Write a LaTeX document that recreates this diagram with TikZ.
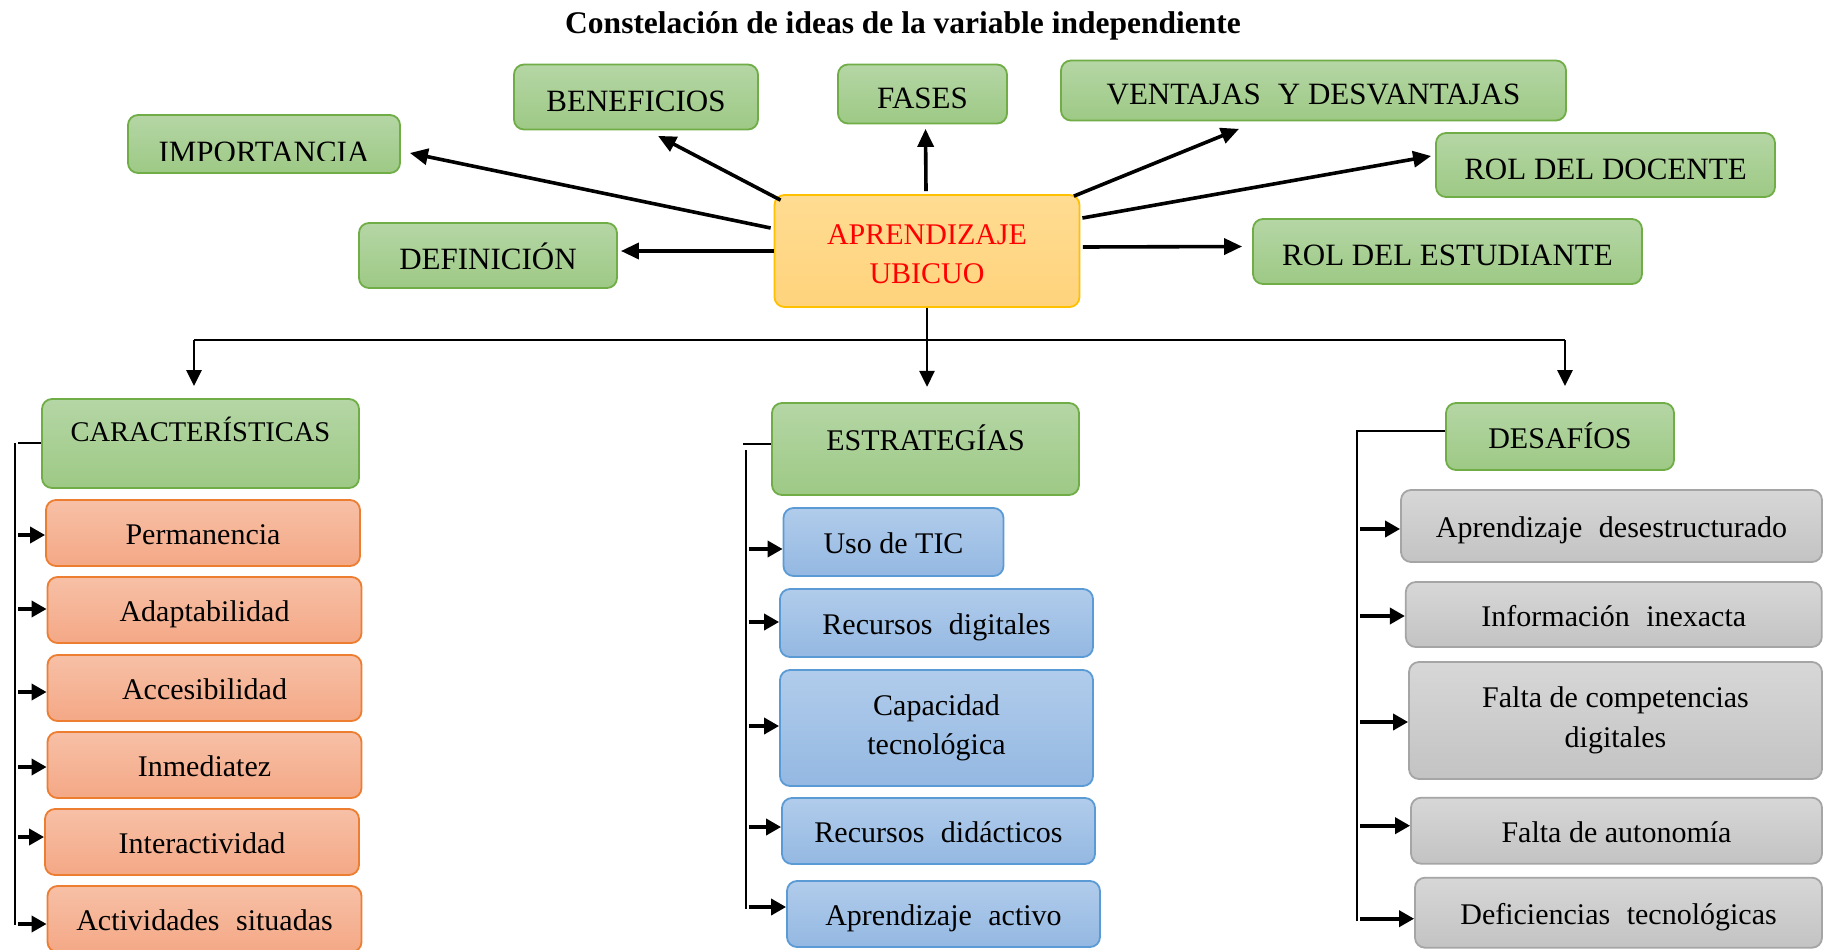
\documentclass[tikz,border=0pt]{standalone}
\usepackage{fontspec}
\setmainfont{Liberation Serif}
\usetikzlibrary{arrows.meta,calc}
\definecolor{gtop}{HTML}{B5D6A5}
\definecolor{gbot}{HTML}{9DC985}
\definecolor{gline}{HTML}{70AD47}
\definecolor{otop}{HTML}{F7C0A6}
\definecolor{obot}{HTML}{F4A886}
\definecolor{oline}{HTML}{ED7D31}
\definecolor{btop}{HTML}{B1CCEB}
\definecolor{bbot}{HTML}{94B8E2}
\definecolor{bline}{HTML}{5B9BD5}
\definecolor{ytop}{HTML}{FFDC92}
\definecolor{ybot}{HTML}{FFD37C}
\definecolor{yline}{HTML}{FFC000}
\definecolor{stop}{HTML}{D7D7D7}
\definecolor{sbot}{HTML}{C3C3C3}
\definecolor{sline}{HTML}{A5A5A5}
\definecolor{redtxt}{HTML}{FF0000}
\newcommand\bodyfont{\fontsize{30}{39.5}\selectfont}
\newcommand\topfont{\fontsize{31}{39.5}\selectfont}
\newcommand\wsp{\hspace{0.55em}}
\newcommand\brarrow[3]{\draw[smallarr] ($(#2.west -| #1)+(3,#3)$) -- ($(#2.west)+(0,#3)$);}
\tikzset{
  box/.style={rounded corners=10pt, line width=1.8pt, inner sep=0pt, font=\bodyfont, align=center},
  gbox/.style={box, draw=gline, top color=gtop, bottom color=gbot},
  obox/.style={box, draw=oline, top color=otop, bottom color=obot},
  bbox/.style={box, draw=bline, top color=btop, bottom color=bbot},
  sbox/.style={box, draw=sline, top color=stop, bottom color=sbot},
  ybox/.style={box, draw=yline, top color=ytop, bottom color=ybot},
  ttxt/.style={font=\topfont, text height=28.5pt, text depth=0pt},
  btxt/.style={text height=23pt, text depth=0pt},
  bigarr/.style={line width=3.6pt, -{Triangle[length=18pt,width=16pt]}},
  treearr/.style={line width=2.8pt, -{Triangle[length=16pt,width=15pt]}},
  tline/.style={line width=2pt},
  smallarr/.style={line width=3.6pt, -{Triangle[length=15pt,width=16pt]}}
}
\begin{document}
\begin{tikzpicture}[x=1pt,y=-1pt]
\useasboundingbox (0,0) rectangle (1823,950);
\fill[white] (0,0) rectangle (1823,950);

% title
\node[font=\fontsize{31.5}{36}\selectfont\bfseries, anchor=base, inner sep=0pt] (title) at (903,34) {Constelación de ideas de la variable independiente};

% top nodes
\node[gbox, minimum width=272pt, minimum height=58pt] (imp) at (264,144) {};
\begin{scope}
\clip (128,115) rectangle (400,160);
\node[font=\topfont, anchor=base, inner sep=0pt] (impt) at (264,162) {IMPORTANCIA};
\end{scope}
\node[gbox, ttxt, minimum width=244pt, minimum height=65pt] (ben) at (636,97) {BENEFICIOS};
\node[gbox, ttxt, minimum width=169pt, minimum height=59pt] (fas) at (922.5,94) {FASES};
\node[gbox, ttxt, minimum width=505pt, minimum height=60pt] (ven) at (1313.5,90.5) {VENTAJAS\wsp Y DESVANTAJAS};
\node[gbox, ttxt, minimum width=339pt, minimum height=64pt] (doc) at (1605.5,165) {ROL DEL DOCENTE};
\node[gbox, ttxt, minimum width=258pt, minimum height=65pt] (def) at (488,255.5) {DEFINICIÓN};
\node[ybox, minimum width=305pt, minimum height=112pt] (cen) at (927,251) {};
\node[font=\bodyfont, text=redtxt, align=center, inner sep=0pt] (cent) at (927,254) {APRENDIZAJE\\UBICUO};
\node[gbox, ttxt, minimum width=389pt, minimum height=65pt] (est) at (1447.5,251.5) {ROL DEL ESTUDIANTE};

% top arrows
\draw[bigarr] ($(cen.west)+(-3,-23)$) -- ($(imp.east)+(9,9)$);
\draw[bigarr] ($(cen.north west)+(7,6)$) -- ($(ben.south)+(22,5.5)$);
\draw[bigarr] ($(cen.north)+(-1,-3)$) -- ($(fas.south)+(3,4.5)$);
\draw[bigarr] ($(cen.north east)+(-6.5,2)$) -- ($(ven.south)+(-74.5,7.5)$);
\draw[bigarr] ($(cen.east)+(2,-33)$) -- ($(doc.west)+(-4,-9)$);
\draw[bigarr] (cen.west) -- ($(def.east)+(3,-4.5)$);
\draw[bigarr] ($(cen.east)+(2.5,-4)$) -- ($(est.west)+(-10,-5)$);

% heads of the three branches
\node[gbox, font=\fontsize{28.5}{34}\selectfont, text height=18.9pt, text depth=22pt, minimum width=317pt, minimum height=89pt] (car) at (200.5,443.5) {CARACTERÍSTICAS};
\node[gbox, text height=19.9pt, text depth=17pt, minimum width=307pt, minimum height=92pt] (str) at (925.5,449) {ESTRATEGÍAS};
\node[gbox, btxt, minimum width=228pt, minimum height=67pt] (des) at (1560,436.5) {DESAFÍOS};

% tree
\coordinate (hl) at (194,340);
\coordinate (hr) at (1565,340);
\coordinate (al) at (194,386);
\coordinate (ar) at (1565,386);
\draw[tline] (hl) -- (hr);
\draw[treearr] (hl) -- (al);
\draw[treearr] (hr) -- (ar);
\draw[treearr] (cen.south) -- ++(0,79);

% left column
\node[obox, btxt, minimum width=314pt, minimum height=66pt] (per) at (203,533) {Permanencia};
\node[obox, btxt, minimum width=314pt, minimum height=66pt] (ada) at (204.5,610) {Adaptabilidad};
\node[obox, btxt, minimum width=314pt, minimum height=66pt] (acc) at (204.5,688) {Accesibilidad};
\node[obox, btxt, minimum width=314pt, minimum height=66pt] (inm) at (204.5,765) {Inmediatez};
\node[obox, btxt, minimum width=314pt, minimum height=66pt] (int) at (202,842) {Interactividad};
\node[obox, btxt, minimum width=314pt, minimum height=66pt] (act) at (204.5,919) {Actividades\wsp situadas};

% middle column
\node[bbox, btxt, minimum width=220pt, minimum height=68pt] (tic) at (893.5,542) {Uso de TIC};
\node[bbox, btxt, minimum width=313pt, minimum height=68pt] (rdi) at (936.5,623) {Recursos\wsp digitales};
\node[bbox, minimum width=313pt, minimum height=116pt] (cap) at (936.5,728) {Capacidad\\tecnológica};
\node[bbox, btxt, minimum width=313pt, minimum height=66pt] (rdd) at (938.5,831) {Recursos\wsp didácticos};
\node[bbox, btxt, minimum width=313pt, minimum height=66pt] (apa) at (943.5,914) {Aprendizaje\wsp activo};

% right column
\node[sbox, btxt, minimum width=421pt, minimum height=72pt] (ade) at (1611.5,526) {Aprendizaje\wsp desestructurado};
\node[sbox, btxt, minimum width=416pt, minimum height=65pt] (inf) at (1613.8,614.5) {Información\wsp inexacta};
\node[sbox, minimum width=413pt, minimum height=117pt] (fcd) at (1615.5,720.5) {Falta de competencias\\digitales};
\node[sbox, btxt, minimum width=411pt, minimum height=66pt] (fau) at (1616.5,830.7) {Falta de autonomía};
\node[sbox, btxt, minimum width=407pt, minimum height=70pt] (dte) at (1618.5,912.7) {Deficiencias\wsp tecnológicas};

% left bracket
\coordinate (lt) at (15,443);
\coordinate (lb) at (15,925);
\draw[tline] (lt) -- (lb);
\draw[tline] ($(lt)+(3,0)$) -- (car.west |- lt);
\brarrow{lt}{per}{2}
\brarrow{lt}{ada}{-1}
\brarrow{lt}{acc}{4}
\brarrow{lt}{inm}{2}
\brarrow{lt}{int}{-5}
\brarrow{lt}{act}{5}

% middle bracket
\coordinate (mt) at (745.5,450);
\coordinate (mb) at (745.5,909);
\coordinate (ms) at (743,443.5);
\draw[tline] (mt) -- (mb);
\draw[tline] (ms) -- (str.west |- ms);
\brarrow{mt}{tic}{7}
\brarrow{mt}{rdi}{-1}
\brarrow{mt}{cap}{-2}
\brarrow{mt}{rdd}{-4}
\brarrow{mt}{apa}{-7}

% right bracket
\coordinate (rt) at (1357,431);
\coordinate (rb) at (1357,921);
\draw[tline] (rb) -- (rt) -- (des.west |- rt);
\brarrow{rt}{ade}{3}
\brarrow{rt}{inf}{1.5}
\brarrow{rt}{fcd}{1.5}
\brarrow{rt}{fau}{-5}
\brarrow{rt}{dte}{6}
\end{tikzpicture}
\end{document}
